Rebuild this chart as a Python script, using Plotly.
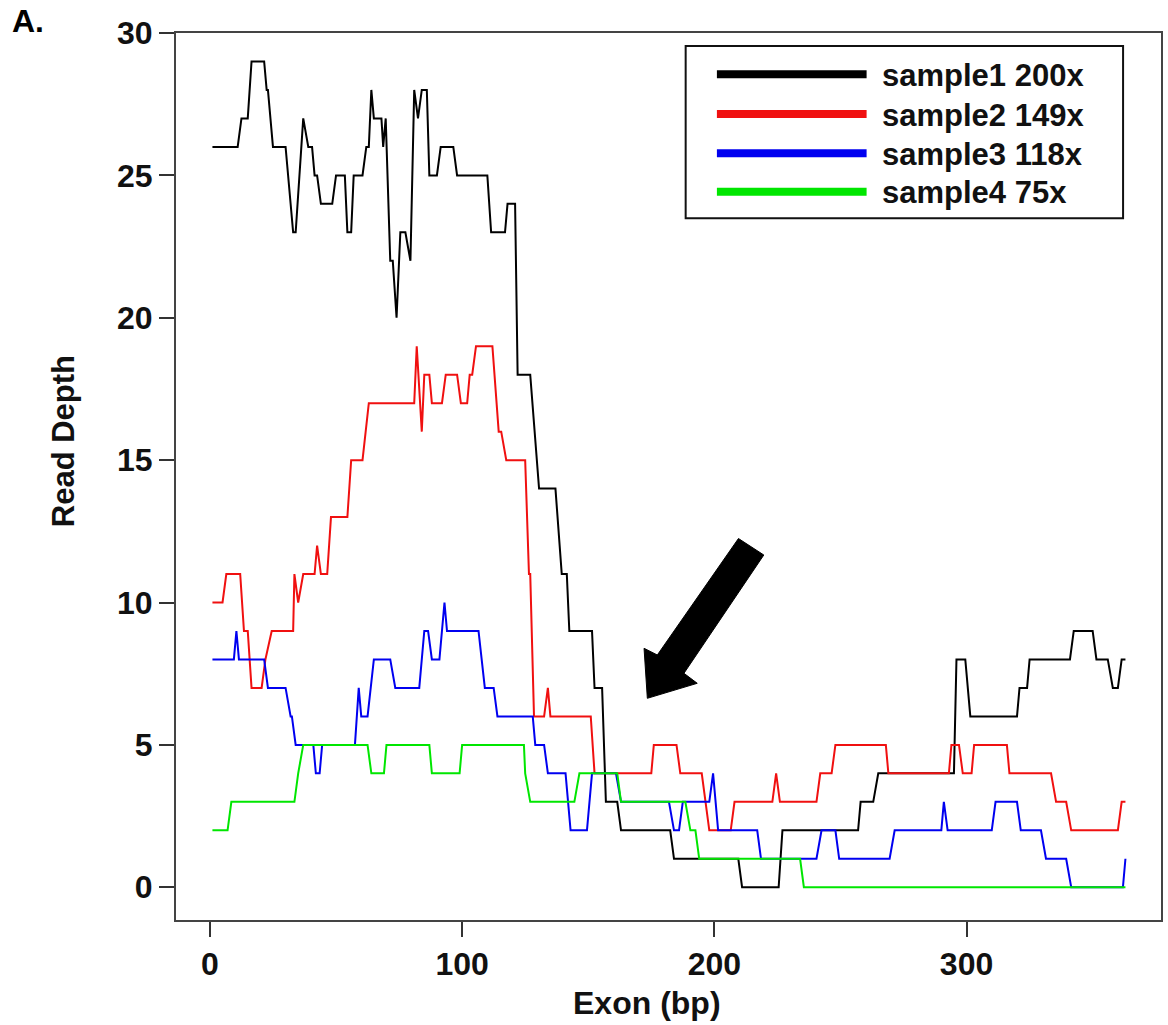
import plotly.graph_objects as go

# ---------------- data ----------------
series_names = ["sample1 200x", "sample2 149x", "sample3 118x", "sample4 75x"]
series_colors = ["#000000", "#f01010", "#0000f0", "#00e600"]

s1_x = [1, 11, 12.5, 15, 16.5, 21.5, 22.5, 23, 25, 30, 33, 34, 37, 39, 40.5, 41.5, 42.5, 44, 48.5, 50,
        53.5, 54.5, 56, 57, 60.5, 62, 63, 64, 65, 68, 68.7, 69.7, 71.5, 72.5, 74, 75.5, 77.5, 79.5, 81, 82.5,
        84, 86, 87, 90, 91.5, 96.5, 98, 110, 111.5, 117, 118, 121, 122, 127, 130.5, 137, 139.5, 141.5, 142.5, 151.5,
        152.5, 155.5, 157, 161.5, 163, 182.5, 184, 209.5, 211, 225.5, 227, 257, 258, 263, 265, 295, 296, 299.5, 301.5, 320,
        321, 324, 325, 341, 342.5, 350, 351.5, 356, 358, 360, 361.5, 363]
s1_y = [26, 26, 27, 27, 29, 29, 28, 28, 26, 26, 23, 23, 27, 26, 26, 25, 25, 24, 24, 25,
        25, 23, 23, 25, 25, 26, 26, 28, 27, 27, 26, 27, 22, 22, 20, 23, 23, 22, 28, 27,
        28, 28, 25, 25, 26, 26, 25, 25, 23, 23, 24, 24, 18, 18, 14, 14, 11, 11, 9, 9,
        7, 7, 3, 3, 2, 2, 1, 1, 0, 0, 2, 2, 3, 3, 4, 4, 8, 8, 6, 6,
        7, 7, 8, 8, 9, 9, 8, 8, 7, 7, 8, 8]

s2_x = [1, 5, 6.5, 12, 13.5, 15, 16.5, 20.5, 22, 24.5, 33, 33.5, 35, 37, 41.5, 42.5, 44, 46.5, 48, 54.5,
        56, 60.5, 63, 81, 82, 84, 85, 87, 88, 92, 93.5, 98, 99.5, 102, 103, 104, 105.5, 112, 114.5, 115.5,
        117.5, 125, 126.5, 127, 128.5, 132.5, 134, 135, 151, 152.5, 175, 176, 185, 186.5, 195, 198, 206.5, 208, 223, 224.5,
        226, 240.5, 242, 246.5, 248, 268, 269, 293, 294, 297, 298.5, 302, 303, 316, 317, 333.5, 335.5, 339.5, 341.5, 360,
        361.5, 363]
s2_y = [10, 10, 11, 11, 9, 9, 7, 7, 8, 9, 9, 11, 10, 11, 11, 12, 11, 11, 13, 13,
        15, 15, 17, 17, 19, 16, 18, 18, 17, 17, 18, 18, 17, 17, 18, 18, 19, 19, 16, 16,
        15, 15, 11, 11, 6, 6, 7, 6, 6, 4, 4, 5, 5, 4, 4, 2, 2, 3, 3, 4,
        3, 3, 4, 4, 5, 5, 4, 4, 5, 5, 4, 4, 5, 5, 4, 4, 3, 3, 2, 2,
        3, 3]

s3_x = [1, 9.5, 10.5, 11.5, 21.5, 23, 30, 32, 32.5, 34, 41, 42, 43.5, 44.5, 57.5, 59, 60, 62.5, 65, 71.5,
        73.5, 83, 85, 86.5, 88, 91, 93, 94, 106.5, 109, 112.5, 114, 128, 129, 132.5, 134, 141, 143, 149.5, 151.5,
        161, 163, 182, 184, 186, 187.5, 198, 199.5, 201.5, 217, 218.5, 240.5, 242.5, 248, 249.5, 269.5, 271.5, 290, 291, 292.5,
        310, 311.5, 320, 321.5, 329.5, 331.5, 339.5, 341.5, 362, 363]
s3_y = [8, 8, 9, 8, 8, 7, 7, 6, 6, 5, 5, 4, 4, 5, 5, 7, 6, 6, 8, 8,
        7, 7, 9, 9, 8, 8, 10, 9, 9, 7, 7, 6, 6, 5, 5, 4, 4, 2, 2, 4,
        4, 3, 3, 2, 2, 3, 3, 4, 2, 2, 1, 1, 2, 2, 1, 1, 2, 2, 3, 2,
        2, 3, 3, 2, 2, 1, 1, 0, 0, 1]

s4_x = [1, 7, 8.5, 33.5, 35, 37, 62.5, 64, 69, 70, 87, 88, 99, 100, 124.5, 125, 127, 144.5, 146.5, 161.5,
        163, 188.5, 190.5, 192.5, 194, 234, 235.5, 363]
s4_y = [2, 2, 3, 3, 4, 5, 5, 4, 4, 5, 5, 4, 4, 5, 5, 4, 3, 3, 4, 4,
        3, 3, 2, 2, 1, 1, 0, 0]

series_x = [s1_x, s2_x, s3_x, s4_x]
series_y = [s1_y, s2_y, s3_y, s4_y]

x_tickvals = [0, 100, 200, 300]
y_tickvals = [0, 5, 10, 15, 20, 25, 30]
x_title = "Exon (bp)"
y_title = "Read Depth"
panel_label = "A."

# ---------------- layout geometry ----------------
W, H = 1168, 1025
ML, MR, MT, MB = 176, 5, 33, 105
PW, PH = W - ML - MR, H - MT - MB


def fx(px):
    return (px - ML) / PW


def fy(py):
    return (H - MB - py) / PH


FONT = "Liberation Sans, Arial, sans-serif"

fig = go.Figure()
for name, color, xs, ys in zip(series_names, series_colors, series_x, series_y):
    fig.add_trace(go.Scatter(x=xs, y=ys, mode="lines", name=name,
                             line=dict(color=color, width=2), showlegend=False))

axis_common = dict(showgrid=False, zeroline=False, showline=True, mirror=True,
                   linecolor="#444444", linewidth=2, ticks="outside", ticklen=15,
                   tickwidth=2, tickcolor="#333333",
                   tickfont=dict(family=FONT, size=32, color="#111111", weight="bold"))

fig.update_layout(
    width=W, height=H,
    margin=dict(l=ML, r=MR, t=MT, b=MB),
    paper_bgcolor="white", plot_bgcolor="white",
    xaxis=dict(range=[-13.45, 377.1], tickvals=x_tickvals, **axis_common),
    yaxis=dict(range=[-1.15, 30], tickvals=y_tickvals, **axis_common),
    showlegend=False,
)

annotations = [
    dict(text=panel_label, x=fx(10), y=fy(21), xref="paper", yref="paper",
         xanchor="left", yanchor="middle", showarrow=False,
         font=dict(family=FONT, size=32, color="black", weight="bold")),
    dict(text=x_title, x=fx(648), y=fy(1003), xref="paper", yref="paper",
         xanchor="center", yanchor="middle", showarrow=False,
         font=dict(family=FONT, size=32, color="#111111", weight="bold")),
    dict(text=y_title, x=fx(63), y=fy(441), xref="paper", yref="paper",
         xanchor="center", yanchor="middle", showarrow=False, textangle=-90,
         font=dict(family=FONT, size=31, color="#111111", weight="bold")),
]

shapes = []
# manual legend box
shapes.append(dict(type="rect", xref="paper", yref="paper",
                   x0=fx(686.7), x1=fx(1125), y0=fy(46), y1=fy(218.3),
                   line=dict(color="#111111", width=2), fillcolor="white", layer="above"))
legend_rows = [74.3, 114, 153.3, 191.7]
for name, color, ry in zip(series_names, series_colors, legend_rows):
    shapes.append(dict(type="line", xref="paper", yref="paper",
                       x0=fx(718), x1=fx(868), y0=fy(ry), y1=fy(ry),
                       line=dict(color=color, width=8), layer="above"))
    annotations.append(dict(text=name, x=fx(881), y=fy(ry + 1), xref="paper", yref="paper",
                            xanchor="left", yanchor="middle", showarrow=False,
                            font=dict(family=FONT, size=31, color="#111111", weight="bold")))

# black arrow (decoration)
arrow_px = [(739.6, 538.5), (765, 555), (685, 673.3), (698.3, 683.3),
            (648.3, 698.3), (645, 648.3), (658.3, 655)]
path = "M " + " L ".join(f"{fx(a):.5f},{fy(b):.5f}" for a, b in arrow_px) + " Z"
shapes.append(dict(type="path", xref="paper", yref="paper", path=path,
                   fillcolor="black", line=dict(color="black", width=1), layer="above"))

fig.update_layout(annotations=annotations, shapes=shapes)
fig.write_html("out.html")
